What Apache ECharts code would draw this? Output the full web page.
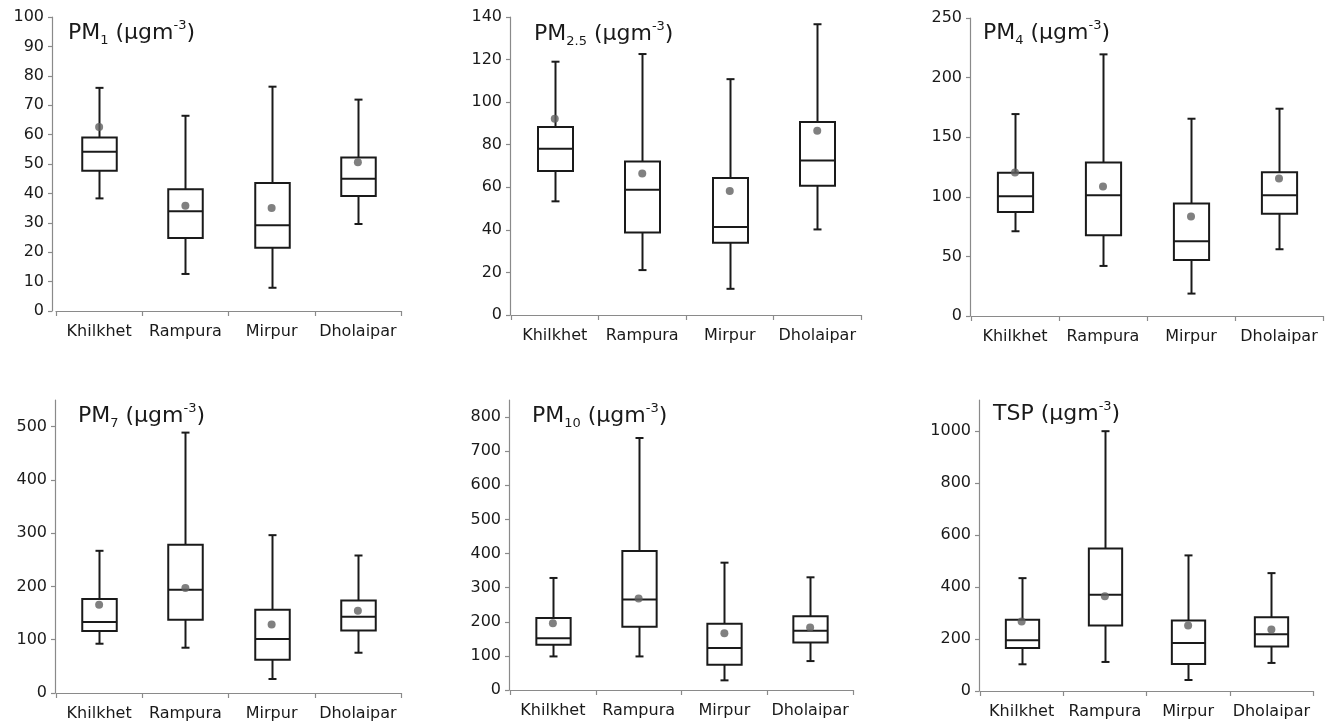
<!DOCTYPE html>
<html>
<head>
<meta charset="utf-8">
<script src="https://cdn.jsdelivr.net/npm/echarts@6/dist/echarts.min.js"></script>
<style>
html,body{margin:0;padding:0;background:#fff;}
#chart{width:1333px;height:726px;}
</style>
</head>
<body>
<div id="chart"></div>
<script>
// ---- data ----
const categories = ['Khilkhet', 'Rampura', 'Mirpur', 'Dholaipar'];

// each row: [min, Q1, median, Q3, max]
const pm1Box  = [[38.3, 47.7, 54.2, 59.0, 75.9], [12.6, 24.8, 33.9, 41.4, 66.4], [7.9, 21.5, 29.2, 43.5, 76.3], [29.6, 39.1, 45.0, 52.2, 71.9]];
const pm1Mean = [62.6, 35.8, 35.0, 50.6];
const pm25Box  = [[53.4, 67.7, 78.1, 88.3, 119.0], [21.1, 38.8, 58.9, 72.1, 122.6], [12.3, 33.9, 41.3, 64.4, 110.8], [40.2, 60.7, 72.6, 90.7, 136.6]];
const pm25Mean = [92.2, 66.5, 58.3, 86.6];
const pm4Box  = [[71.1, 87.3, 100.5, 120.1, 169.4], [42.0, 67.7, 101.3, 128.8, 219.5], [18.8, 47.0, 62.7, 94.3, 165.5], [56.0, 85.7, 101.3, 120.7, 173.9]];
const pm4Mean = [120.4, 108.6, 83.4, 115.3];
const pm7Box  = [[92.5, 116.3, 133.1, 176.3, 266.9], [85.0, 137.5, 193.8, 278.1, 488.8], [26.3, 62.5, 101.3, 156.3, 296.3], [75.6, 117.5, 143.1, 173.8, 258.1]];
const pm7Mean = [165.6, 196.9, 128.8, 154.4];
const pm10Box  = [[98.4, 132.5, 152.0, 211.4, 328.4], [98.4, 185.1, 265.0, 407.3, 738.6], [28.3, 74.1, 122.8, 193.9, 373.2], [84.8, 139.3, 173.4, 216.3, 330.3]];
const pm10Mean = [195.9, 268.0, 166.6, 183.2];
const tspBox  = [[102.8, 165.8, 195.4, 273.8, 434.4], [111.8, 251.9, 370.2, 548.8, 1000.0], [42.4, 104.1, 185.1, 271.2, 521.9], [108.0, 171.0, 218.5, 284.1, 453.7]];
const tspMean = [267.4, 365.0, 251.9, 236.5];

// axis ticks
const pm1Ticks  = [0, 10, 20, 30, 40, 50, 60, 70, 80, 90, 100];
const pm25Ticks = [0, 20, 40, 60, 80, 100, 120, 140];
const pm4Ticks  = [0, 50, 100, 150, 200, 250];
const pm7Ticks  = [0, 100, 200, 300, 400, 500];
const pm10Ticks = [0, 100, 200, 300, 400, 500, 600, 700, 800];
const tspTicks  = [0, 200, 400, 600, 800, 1000];

// axis maxima
const axisMax = [100, 140, 250, 550, 850, 1120];

// titles: [main, subscript]
const titleParts = [['PM', '1'], ['PM', '2.5'], ['PM', '4'], ['PM', '7'], ['PM', '10'], ['TSP', '']];

// ---- layout ----
const panels = [
  {box: pm1Box,  mean: pm1Mean,  ticks: pm1Ticks,  grid: {left: 56,  top: 17,  width: 345, height: 294}, yOff: 4, title: [68, 19]},
  {box: pm25Box, mean: pm25Mean, ticks: pm25Ticks, grid: {left: 511, top: 17,  width: 350, height: 298}, yOff: 1, title: [534, 20]},
  {box: pm4Box,  mean: pm4Mean,  ticks: pm4Ticks,  grid: {left: 971, top: 18,  width: 352, height: 298}, yOff: 1, title: [983, 19]},
  {box: pm7Box,  mean: pm7Mean,  ticks: pm7Ticks,  grid: {left: 56,  top: 400, width: 345, height: 293}, yOff: 1, title: [78, 402]},
  {box: pm10Box, mean: pm10Mean, ticks: pm10Ticks, grid: {left: 510, top: 400, width: 343, height: 290}, yOff: 1, title: [532, 402]},
  {box: tspBox,  mean: tspMean,  ticks: tspTicks,  grid: {left: 980, top: 400, width: 333, height: 291}, yOff: 1, title: [993, 400]}
];

const FONT = 'DejaVu Sans';
const AXIS_COLOR = '#8a8a8a';
const BOX_COLOR = '#1a1a1a';
const TEXT_COLOR = '#1a1a1a';

function renderBox(params, api) {
  const x = api.value(0);
  const lo = api.coord([x, api.value(1)]);
  const q1 = api.coord([x, api.value(2)]);
  const md = api.coord([x, api.value(3)]);
  const q3 = api.coord([x, api.value(4)]);
  const hi = api.coord([x, api.value(5)]);
  const bw = api.size([1, 0])[0] * 0.4;
  const cap = 4;
  const cx = Math.round(lo[0]) + 0.5;
  const st = {stroke: BOX_COLOR, lineWidth: 2, fill: null};
  return {
    type: 'group',
    children: [
      {type: 'line', shape: {x1: cx, y1: hi[1], x2: cx, y2: q3[1]}, style: st},
      {type: 'line', shape: {x1: cx - cap, y1: hi[1], x2: cx + cap, y2: hi[1]}, style: st},
      {type: 'line', shape: {x1: cx, y1: q1[1], x2: cx, y2: lo[1]}, style: st},
      {type: 'line', shape: {x1: cx - cap, y1: lo[1], x2: cx + cap, y2: lo[1]}, style: st},
      {type: 'rect', shape: {x: cx - bw / 2, y: q3[1], width: bw, height: q1[1] - q3[1]},
        style: {stroke: BOX_COLOR, lineWidth: 2, fill: '#ffffff'}},
      {type: 'line', shape: {x1: cx - bw / 2, y1: md[1], x2: cx + bw / 2, y2: md[1]}, style: st}
    ]
  };
}

const option = {
  backgroundColor: '#ffffff',
  animation: false,
  title: [],
  grid: [],
  xAxis: [],
  yAxis: [],
  series: []
};

panels.forEach((p, i) => {
  const g = Object.assign({containLabel: false, outerBoundsMode: 'none'}, p.grid);
  option.grid.push(g);
  const tp = titleParts[i];
  const text = tp[1]
    ? '{m|' + tp[0] + '}{sb|' + tp[1] + '}{m| (µgm}{sp|-3}{m|)}'
    : '{m|' + tp[0] + ' (µgm}{sp|-3}{m|)}';
  option.title.push({
    text: text,
    left: p.title[0],
    top: p.title[1],
    padding: 0,
    textStyle: {
      fontFamily: FONT,
      fontWeight: 'normal',
      rich: {
        m: {fontFamily: FONT, fontWeight: 'normal', fontSize: 22, lineHeight: 28, color: TEXT_COLOR},
        sb: {fontFamily: FONT, fontWeight: 'normal', fontSize: 13, lineHeight: 13, verticalAlign: 'bottom', color: TEXT_COLOR},
        sp: {fontFamily: FONT, fontWeight: 'normal', fontSize: 13, lineHeight: 13, verticalAlign: 'top', color: TEXT_COLOR}
      }
    }
  });
  option.xAxis.push({
    type: 'category',
    gridIndex: i,
    data: categories,
    boundaryGap: true,
    axisLine: {show: true, lineStyle: {color: AXIS_COLOR, width: 1.2}},
    axisTick: {show: true, inside: false, length: 5, alignWithLabel: false, lineStyle: {color: AXIS_COLOR, width: 1.2}},
    axisLabel: {fontFamily: FONT, fontSize: 16, color: TEXT_COLOR, margin: 13, interval: 0},
    splitLine: {show: false}
  });
  option.yAxis.push({
    type: 'value',
    gridIndex: i,
    min: 0,
    max: axisMax[i],
    offset: p.yOff,
    axisLine: {show: true, lineStyle: {color: AXIS_COLOR, width: 1.2}},
    axisTick: {show: true, inside: false, length: 4, customValues: p.ticks, lineStyle: {color: AXIS_COLOR, width: 1.2}},
    axisLabel: {fontFamily: FONT, fontSize: 16, color: TEXT_COLOR, margin: 8, customValues: p.ticks,
      showMaxLabel: true, showMinLabel: true, formatter: v => String(v)},
    splitLine: {show: false}
  });
  option.series.push({
    type: 'custom',
    xAxisIndex: i,
    yAxisIndex: i,
    renderItem: renderBox,
    encode: {x: 0, y: [1, 2, 3, 4, 5]},
    data: p.box.map((r, k) => [k].concat(r)),
    z: 2
  });
  option.series.push({
    type: 'scatter',
    xAxisIndex: i,
    yAxisIndex: i,
    data: p.mean.map((v, k) => [k, v]),
    symbol: 'circle',
    symbolSize: 8,
    itemStyle: {color: '#606060'},
    z: 5
  });
});

const chart = echarts.init(document.getElementById('chart'), null, {renderer: 'canvas'});
chart.setOption(option);
</script>
</body>
</html>
